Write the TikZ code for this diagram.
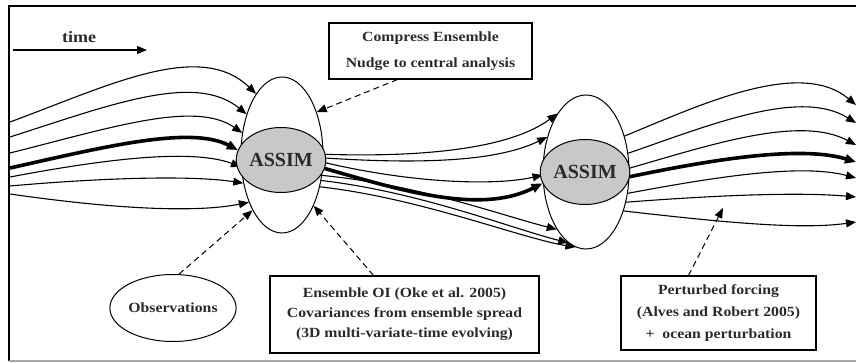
\documentclass[tikz,border=0pt]{standalone}
\usepackage{fontspec}
\newfontfamily\diagfont{Liberation Serif Bold}[FakeStretch=1.125]
\newfontfamily\assimfont{Liberation Serif Bold}
\usetikzlibrary{arrows.meta,shapes.geometric,calc}
\definecolor{txt}{HTML}{2A2A2A}
\definecolor{assimfill}{HTML}{C8C8C8}
\begin{document}
\begin{tikzpicture}[x=1pt,y=-1pt,
  tip/.style={-{Triangle[length=10pt,width=8pt]}},
  flow/.style={tip,line width=1.1pt,black},
  mainflow/.style={-{Triangle[length=11pt,width=9pt]},line width=3.6pt,black},
  dasharrow/.style={tip,dash pattern=on 6pt off 4pt,line width=1pt},
  outerell/.style={ellipse,draw,line width=1pt,inner sep=0pt},
  assim/.style={ellipse,draw,line width=1pt,fill=assimfill,inner sep=0pt,text=txt,font=\assimfont\fontsize{20}{20}\selectfont},
  infobox/.style={draw,line width=1.1pt,inner sep=0pt,align=center,text=txt,font=\diagfont\fontsize{14}{20}\selectfont}
]
\useasboundingbox (0,0) rectangle (856,363);
% frame
\draw[line width=1.2pt] (856,6) -- (9,6) -- (9,361);
\draw[line width=1.2pt,gray!70] (9,361) -- (856,361);
% time arrow
\node[text=txt,font=\diagfont\fontsize{16}{16}\selectfont] (time) at (79,37) {time};
\coordinate (t0) at (13,50);
\coordinate (t1) at (147,50);
\draw[tip,line width=1.1pt] (t0) -- (t1);
% ellipses
\node[outerell,minimum width=82pt,minimum height=156pt] (E1) at (282,155) {};
\node[outerell,minimum width=86pt,minimum height=154pt] (E2) at (586,172) {};
% left starts
\foreach \i/\y in {1/122,2/137,3/153,4/168,5/177,6/186,7/194}{\coordinate (L\i) at (10,\y);}
\foreach \i/\y in {1/105,2/123,3/145,4/162,5/178,6/197,7/222}{\coordinate (R\i) at (856,\y);}
% left incoming curves
\draw[flow] (L1) .. controls (110,85) and (200,40) .. (E1.113);
\draw[flow] (L2) .. controls (110,105) and (195,72) .. (E1.131);
\draw[flow] (L3) .. controls (110,128) and (195,100) .. (E1.151);
\draw[flow] (L5) .. controls (100,160) and (190,148) .. (E1.196);
\draw[flow] (L6) .. controls (100,178) and (190,175) .. (E1.216);
\draw[flow] (L7) .. controls (100,207) and (190,214) .. (E1.235);
% middle curves
\draw[flow] (E1.1) .. controls (440,158) and (515,145) .. (E2.116);
\draw[flow] (E1.-4) .. controls (430,165) and (500,160) .. (E2.138);
\draw[flow] (E1.-10) .. controls (420,185) and (500,185) .. (E2.184);
\draw[flow] (E1.-27) .. controls (420,185) and (500,215) .. (E2.243);
\draw[flow] (E1.-33) .. controls (420,192) and (510,228) .. (E2.256);
\draw[flow] (E1.-40) .. controls (420,198) and (520,238) .. (E2.262);
% right outgoing curves
\draw[flow] (E2.43) .. controls (700,105) and (800,58) .. (R1);
\draw[flow] (E2.24) .. controls (710,125) and (800,88) .. (R2);
\draw[flow] (E2.5) .. controls (710,145) and (800,115) .. (R3);
\draw[flow] (E2.-27) .. controls (710,178) and (800,163) .. (R5);
\draw[flow] (E2.-37) .. controls (720,195) and (800,192) .. (R6);
\draw[flow] (E2.-46) .. controls (720,222) and (800,230) .. (R7);
% ASSIM nodes
\node[assim,minimum width=71pt,minimum height=65pt] (A1) at (281,160) {ASSIM};
\node[assim,minimum width=69pt,minimum height=65pt] (A2) at (585,172) {ASSIM};
% thick main trajectory
\draw[mainflow] (L4) .. controls (100,148) and (190,125) .. (A1.167);
\draw[mainflow] (A1.-11) .. controls (400,190) and (480,215) .. (A2.195);
\draw[mainflow] (A2.-6) .. controls (710,160) and (800,145) .. (R4);
% boxes
\node[infobox,minimum width=203pt,minimum height=56pt] (C) at (430.5,51) {Compress Ensemble\\[6pt]Nudge to central analysis};
\node[infobox,minimum width=269pt,minimum height=77pt] (O) at (404.5,314.5) {Ensemble OI (Oke et al. 2005)\\Covariances from ensemble spread\\(3D multi-variate-time evolving)};
\node[infobox,minimum width=195pt,minimum height=74pt] (P) at (718.5,313) {Perturbed forcing\\[2pt](Alves and Robert 2005)\\[2pt]+\ \ ocean perturbation};
\node[ellipse,draw,line width=1pt,inner sep=0pt,minimum width=120pt,minimum height=67pt,text=txt,font=\diagfont\fontsize{14}{20}\selectfont] (Obs) at (173,308) {Observations};
% dashed arrows
\coordinate (pf) at (723,208);
\draw[dasharrow] ([xshift=-33pt]C.south) -- (E1.51);
\draw[dasharrow] (Obs.80) -- (E1.242);
\draw[dasharrow] ([xshift=-31pt]O.north) -- (E1.302);
\draw[dasharrow] ([xshift=-30pt]P.north) -- (pf);
\end{tikzpicture}
\end{document}
